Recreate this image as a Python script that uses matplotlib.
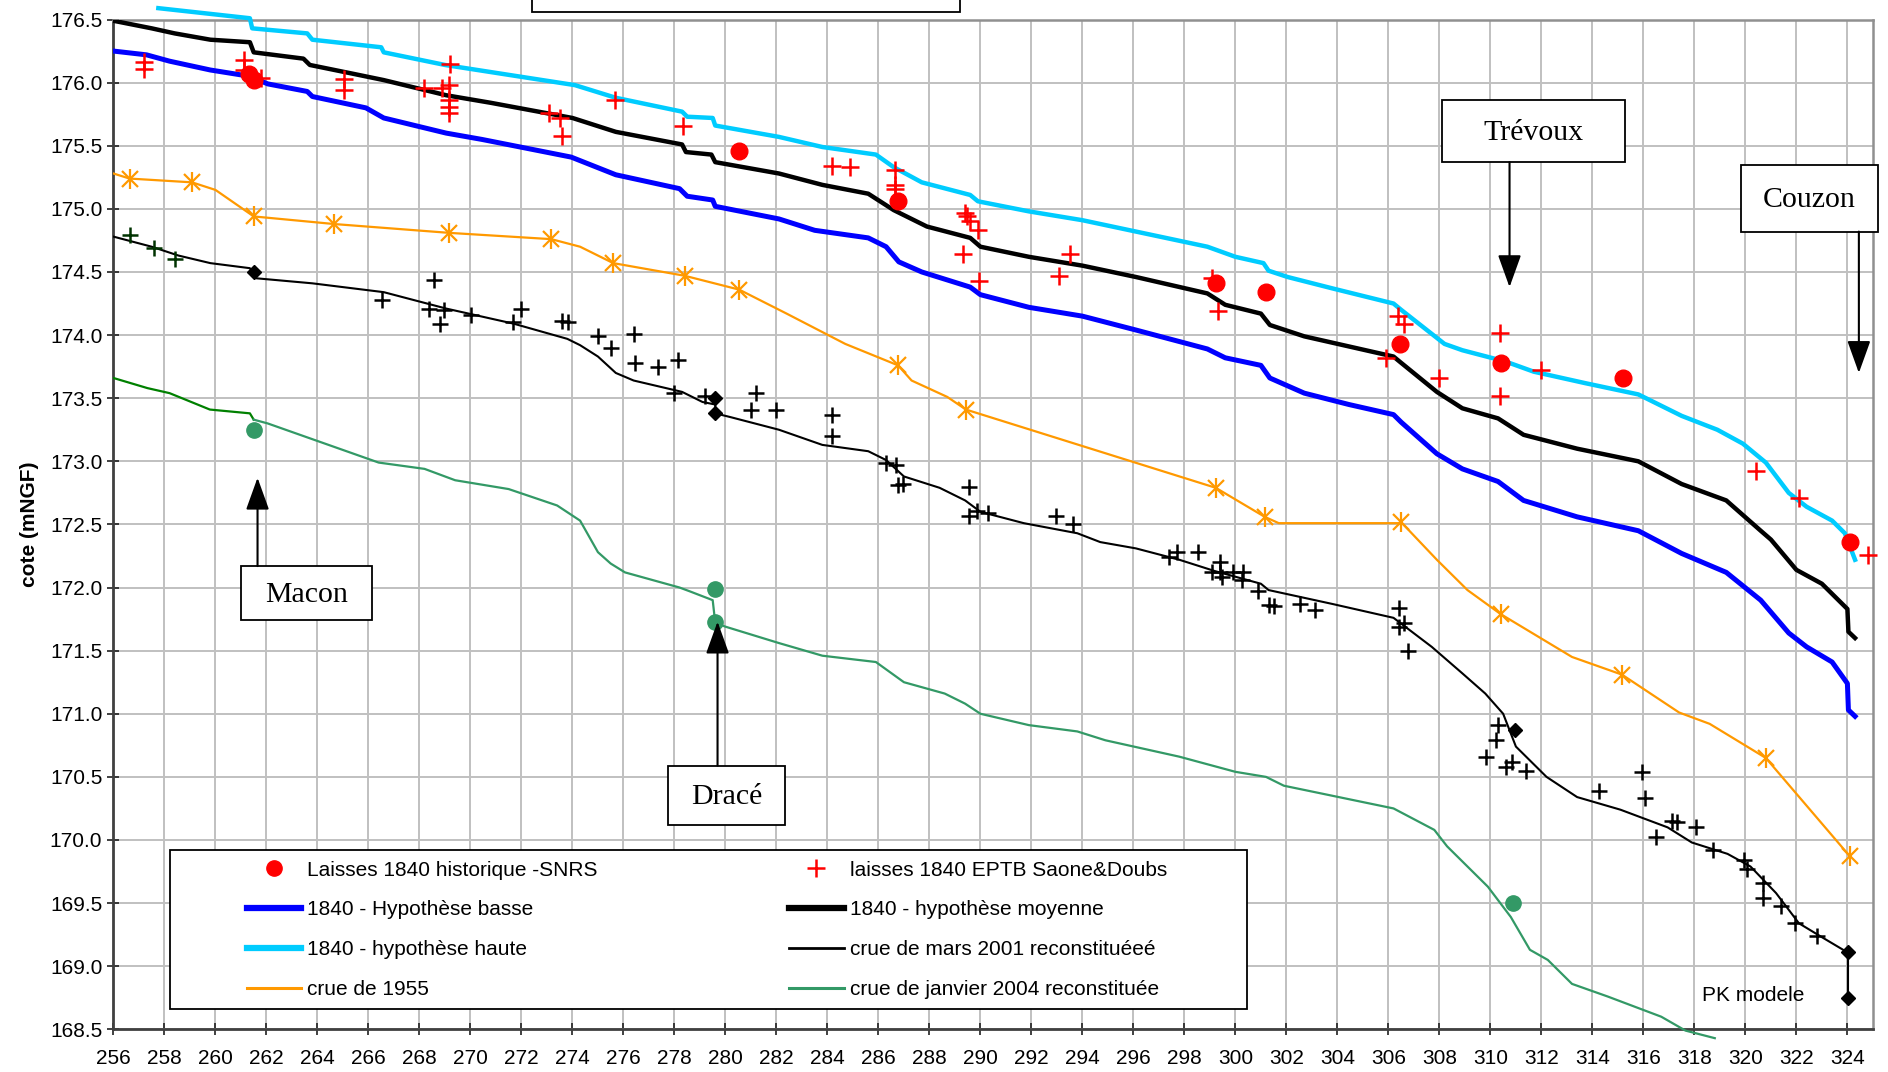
import matplotlib
matplotlib.use("Agg")
import matplotlib.pyplot as plt
from matplotlib.lines import Line2D
from matplotlib.patches import Rectangle

plt.rcParams['font.family'] = ['Liberation Sans', 'DejaVu Sans']

# --- data: PK (km) / cote (mNGF) ---
haute_pk = [257.76, 261.35, 261.44, 263.6, 263.8, 266.5, 266.6, 269.0, 274.1, 275.7, 278.3, 278.5,
            279.5, 279.6, 282.1, 283.8, 285.9, 286.6, 287.7, 289.6, 289.9, 291.9, 294.0, 296.1,
            298.9, 300.0, 301.1, 301.3, 302.05, 303.8, 306.2, 306.5, 308.2, 308.9, 310.6, 311.7,
            313.7, 315.8, 317.5, 318.9, 319.9, 320.8, 321.7, 322.4, 323.4, 323.9, 324.3]
haute_z = [176.59, 176.51, 176.43, 176.39, 176.34, 176.28, 176.24, 176.14, 175.98, 175.88, 175.77, 175.73,
           175.72, 175.66, 175.57, 175.49, 175.43, 175.33, 175.21, 175.11, 175.06, 174.98, 174.91, 174.82,
           174.70, 174.62, 174.57, 174.51, 174.46, 174.37, 174.25, 174.20, 173.93, 173.88, 173.79, 173.71,
           173.62, 173.53, 173.36, 173.25, 173.14, 172.99, 172.75, 172.64, 172.53, 172.43, 172.22]

moy_pk = [256.0, 257.5, 258.4, 259.8, 261.35, 261.5, 263.45, 263.7, 265.4, 266.6, 269.05, 270.8, 274.0,
          275.7, 278.3, 278.45, 279.45, 279.6, 282.1, 283.8, 285.6, 286.6, 287.9, 289.6, 290.0, 291.9,
          294.0, 296.1, 298.9, 299.6, 301.0, 301.35, 302.7, 304.45, 306.2, 306.5, 307.9, 308.9, 310.3,
          311.3, 313.4, 315.8, 317.5, 319.25, 320.6, 321.0, 322.0, 323.0, 324.0, 324.04, 324.3]
moy_z = [176.49, 176.43, 176.39, 176.34, 176.32, 176.24, 176.19, 176.14, 176.07, 176.02, 175.90, 175.84, 175.72,
         175.61, 175.51, 175.45, 175.43, 175.37, 175.28, 175.19, 175.12, 174.99, 174.86, 174.77, 174.70, 174.62,
         174.55, 174.46, 174.33, 174.24, 174.17, 174.08, 173.99, 173.91, 173.83, 173.78, 173.55, 173.42, 173.34,
         173.21, 173.10, 173.00, 172.82, 172.69, 172.45, 172.38, 172.14, 172.03, 171.83, 171.65, 171.60]

basse_pk = [256.0, 257.3, 258.2, 259.8, 261.35, 262.05, 263.6, 263.8, 265.9, 266.6, 269.05, 270.45, 273.95,
            275.7, 278.2, 278.5, 279.5, 279.6, 282.1, 283.5, 285.6, 286.3, 286.8, 287.7, 289.6, 290.0,
            291.9, 294.0, 296.1, 298.9, 299.6, 301.0, 301.35, 302.7, 304.45, 306.2, 306.5, 307.9, 308.9,
            310.3, 311.3, 313.4, 315.8, 317.5, 319.25, 320.6, 321.7, 322.4, 323.4, 324.0, 324.04, 324.3]
basse_z = [176.25, 176.22, 176.17, 176.10, 176.05, 175.99, 175.93, 175.89, 175.80, 175.72, 175.60, 175.55, 175.41,
           175.27, 175.16, 175.10, 175.07, 175.02, 174.92, 174.83, 174.77, 174.70, 174.58, 174.50, 174.38, 174.32,
           174.22, 174.15, 174.04, 173.89, 173.82, 173.76, 173.66, 173.54, 173.45, 173.37, 173.31, 173.06, 172.94,
           172.84, 172.69, 172.56, 172.45, 172.27, 172.12, 171.90, 171.64, 171.53, 171.41, 171.24, 171.03, 170.98]

c1955_pk = [256.0, 256.63, 259.08, 260.0, 261.5, 264.64, 269.15, 273.17, 274.3, 275.6, 278.4, 280.54, 282.4,
            284.7, 286.77, 287.3, 288.7, 289.43, 299.23, 301.15, 301.7, 306.4, 306.49, 307.9, 309.1, 310.4,
            313.2, 315.16, 317.4, 318.6, 320.8, 324.1]
c1955_z = [175.28, 175.24, 175.21, 175.15, 174.94, 174.88, 174.81, 174.76, 174.70, 174.57, 174.47, 174.36, 174.17,
           173.93, 173.76, 173.64, 173.51, 173.41, 172.79, 172.56, 172.51, 172.51, 172.52, 172.22, 171.98, 171.79,
           171.45, 171.31, 171.01, 170.92, 170.65, 169.87]
c1955_mk_pk = [256.63, 259.08, 261.5, 264.64, 269.15, 273.17, 275.6, 278.4, 280.54, 286.77, 289.43, 299.23,
               301.15, 306.49, 310.4, 315.16, 320.8, 324.1]
c1955_mk_z = [175.24, 175.21, 174.94, 174.88, 174.81, 174.76, 174.57, 174.47, 174.36, 173.76, 173.41, 172.79,
              172.56, 172.52, 171.79, 171.31, 170.65, 169.87]

mars2001_pk = [256.0, 257.5, 258.55, 259.8, 261.35, 261.6, 263.8, 266.6, 269.05, 271.7, 273.8, 274.3, 275.0,
               275.7, 276.4, 278.3, 279.1, 279.6, 279.6, 280.2, 282.1, 283.8, 285.6, 286.3, 287.0, 288.4,
               289.4, 290.0, 291.7, 293.8, 294.7, 296.1, 297.8, 299.2, 301.0, 301.3, 303.8, 306.2, 307.7,
               308.9, 309.8, 310.5, 311.0, 312.2, 313.4, 315.1, 316.95, 317.9, 319.3, 320.2, 321.2, 322.1,
               323.0, 324.0]
mars2001_z = [174.78, 174.70, 174.63, 174.57, 174.53, 174.45, 174.41, 174.34, 174.21, 174.09, 173.97, 173.92, 173.83,
              173.70, 173.64, 173.55, 173.47, 173.45, 173.38, 173.35, 173.25, 173.13, 173.08, 173.01, 172.88, 172.79,
              172.69, 172.60, 172.51, 172.43, 172.36, 172.31, 172.22, 172.13, 172.03, 171.98, 171.87, 171.76, 171.53,
              171.32, 171.16, 171.00, 170.74, 170.50, 170.34, 170.24, 170.10, 169.98, 169.89, 169.79, 169.58, 169.34,
              169.23, 169.11]

jan2004a_pk = [256.0, 257.33, 258.2, 259.78, 261.35, 261.5]
jan2004a_z = [173.66, 173.58, 173.54, 173.41, 173.38, 173.33]
jan2004_pk = [261.5, 262.05, 266.4, 268.2, 269.4, 271.5, 273.4, 274.3, 275.0, 275.5, 276.06, 278.2, 278.6,
              279.5, 279.6, 280.0, 282.1, 283.8, 285.9, 287.0, 288.6, 289.4, 290.0, 291.9, 293.8, 294.9,
              297.8, 300.0, 301.2, 301.9, 306.2, 307.8, 308.3, 309.9, 310.8, 311.55, 312.25, 313.2, 314.6,
              316.7, 317.65, 318.8]
jan2004_z = [173.33, 173.30, 172.99, 172.94, 172.85, 172.78, 172.65, 172.53, 172.28, 172.19, 172.12, 172.00, 171.97,
             171.90, 171.72, 171.69, 171.56, 171.46, 171.41, 171.25, 171.16, 171.08, 171.00, 170.91, 170.86, 170.79,
             170.66, 170.54, 170.50, 170.43, 170.25, 170.08, 169.95, 169.63, 169.39, 169.13, 169.05, 168.86, 168.76,
             168.60, 168.49, 168.43]

snrs_pk = [261.3, 261.5, 280.54, 286.77, 299.23, 301.2, 306.45, 310.4, 315.2, 324.1]
snrs_z = [176.07, 176.02, 175.46, 175.06, 174.41, 174.34, 173.93, 173.78, 173.66, 172.36]

eptb_pk = [257.2, 257.2, 261.1, 261.1, 261.8, 265.03, 265.03, 268.18, 268.88, 269.2, 269.15, 269.15, 269.15,
           269.15, 273.08, 273.5, 273.6, 275.65, 278.33, 284.18, 284.9, 286.63, 286.63, 286.63, 289.4, 289.47,
           289.6, 289.9, 289.3, 289.93, 293.08, 293.5, 299.1, 299.3, 306.38, 306.6, 305.9, 307.98, 310.36,
           310.36, 312.0, 320.4, 322.1, 324.8]
eptb_z = [176.16, 176.11, 176.18, 176.10, 176.04, 176.03, 175.94, 175.96, 175.96, 176.15, 175.98, 175.86, 175.81,
          175.76, 175.76, 175.72, 175.58, 175.86, 175.66, 175.34, 175.33, 175.31, 175.19, 175.16, 174.97, 174.94,
          174.90, 174.83, 174.64, 174.43, 174.47, 174.64, 174.45, 174.19, 174.15, 174.09, 173.82, 173.66, 174.02,
          173.52, 173.72, 172.92, 172.71, 172.26]

laisses2001_pk = [266.55, 268.57, 268.36, 268.97, 268.8, 270.02, 271.65, 272.0, 273.6, 273.82, 275.0, 275.53,
                  276.4, 276.44, 277.37, 278.13, 278.0, 279.2, 281.2, 281.0, 282.0, 284.18, 284.18, 286.3,
                  286.7, 286.77, 286.98, 289.54, 289.54, 289.87, 290.31, 292.97, 293.63, 297.4, 297.71, 298.54,
                  299.38, 299.38, 299.1, 299.47, 299.9, 300.29, 300.25, 300.9, 301.3, 301.5, 302.53, 303.13,
                  306.43, 306.6, 306.43, 306.78, 310.31, 310.22, 309.82, 310.62, 310.86, 311.38, 314.25, 315.95,
                  316.08, 316.5, 317.14, 317.3, 318.07, 318.71, 319.95, 320.07, 320.7, 320.7, 321.4, 321.95, 322.8]
laisses2001_z = [174.28, 174.44, 174.21, 174.20, 174.09, 174.16, 174.10, 174.21, 174.11, 174.10, 173.99, 173.90,
                 174.01, 173.78, 173.75, 173.80, 173.54, 173.52, 173.54, 173.41, 173.41, 173.37, 173.20, 172.99,
                 172.97, 172.81, 172.82, 172.80, 172.57, 172.61, 172.59, 172.57, 172.50, 172.24, 172.28, 172.28,
                 172.20, 172.12, 172.12, 172.08, 172.12, 172.12, 172.06, 171.97, 171.86, 171.85, 171.87, 171.82,
                 171.84, 171.72, 171.69, 171.50, 170.91, 170.79, 170.66, 170.58, 170.62, 170.55, 170.39, 170.54,
                 170.33, 170.02, 170.15, 170.14, 170.10, 169.92, 169.84, 169.77, 169.66, 169.54, 169.48, 169.34, 169.24]

amont_pk = [256.66, 257.59, 258.41]
amont_z = [174.79, 174.69, 174.60]

pk_modele_pk = [261.5, 279.6, 279.6, 310.96, 324.03, 324.03]
pk_modele_z = [174.50, 173.50, 173.38, 170.87, 169.11, 168.75]

stations_pk = [261.5, 279.6, 279.6, 310.9]
stations_z = [173.25, 171.99, 171.73, 169.50]

xticks = list(range(256, 325, 2))
yticks = [168.5 + 0.5 * i for i in range(17)]

# --- figure ---
fig = plt.figure(figsize=(18.88, 10.72), dpi=100)
ax = fig.add_axes([0.0601, 0.0398, 0.9319, 0.942])

ax.plot(haute_pk, haute_z, color='#00CCFF', lw=3.2, zorder=3, clip_on=False)
ax.plot(moy_pk, moy_z, color='black', lw=3.2, zorder=3)
ax.plot(basse_pk, basse_z, color='#0000FF', lw=3.6, zorder=3)
ax.plot(c1955_pk, c1955_z, color='#FF9900', lw=1.6, zorder=3)
ax.plot(c1955_mk_pk, c1955_mk_z, ls='none', marker='x', ms=11, mew=1.6, color='#FF9900', zorder=4)
ax.plot(c1955_mk_pk, c1955_mk_z, ls='none', marker='|', ms=14, mew=1.6, color='#FF9900', zorder=4)
ax.plot(mars2001_pk, mars2001_z, color='black', lw=1.5, zorder=3)
ax.plot(jan2004a_pk, jan2004a_z, color='#008000', lw=1.6, zorder=3)
ax.plot(jan2004_pk, jan2004_z, color='#339966', lw=1.6, zorder=3, clip_on=False)

ax.plot(snrs_pk, snrs_z, ls='none', marker='o', ms=12, color='#FF0000', zorder=5, clip_on=False)
ax.plot(eptb_pk, eptb_z, ls='none', marker='+', ms=13, mew=1.8, color='#FF0000', zorder=5, clip_on=False)
ax.plot(laisses2001_pk, laisses2001_z, ls='none', marker='+', ms=11, mew=1.8, color='black', zorder=5)
ax.plot(amont_pk, amont_z, ls='none', marker='+', ms=11, mew=1.8, color='#003300', zorder=5)
ax.plot(pk_modele_pk[-2:], pk_modele_z[-2:], color='black', lw=1.5, zorder=4)
ax.plot(pk_modele_pk, pk_modele_z, ls='none', marker='D', ms=7, color='black', zorder=5)
ax.plot(stations_pk, stations_z, ls='none', marker='o', ms=11, color='#339966', zorder=5)

ax.set_xlim(256, 325)
ax.set_ylim(168.5, 176.5)
ax.set_xticks(xticks)
ax.set_yticks(yticks)
ax.set_yticklabels(['%.1f' % v for v in yticks])
ax.tick_params(labelsize=15, length=9, width=1.2, color='#202020', direction='inout')
ax.tick_params(axis='x', pad=10)
ax.grid(True, color='#C0C0C0', lw=1.4)
ax.set_axisbelow(True)
for s in ['left', 'bottom']:
    ax.spines[s].set_color('#404040')
    ax.spines[s].set_linewidth(2)
for s in ['top', 'right']:
    ax.spines[s].set_color('#909090')
    ax.spines[s].set_linewidth(1.8)
ax.set_ylabel('cote (mNGF)', fontsize=15, fontweight='bold', labelpad=8)

# station boxes
def station(x0, x1, y0, y1, label, ax_x, tip_y, base_y):
    ax.add_patch(Rectangle((x0, y0), x1 - x0, y1 - y0, facecolor='white', edgecolor='black',
                           lw=1.3, zorder=7, clip_on=False))
    ax.text((x0 + x1) / 2, (y0 + y1) / 2 - 0.015, label, fontsize=21.5, family='Liberation Serif',
            ha='center', va='center', zorder=8)
    ax.annotate('', xy=(ax_x, tip_y), xytext=(ax_x, base_y), annotation_clip=False,
                arrowprops=dict(arrowstyle='-|>,head_length=0.5,head_width=0.18', color='black',
                                lw=1.5, mutation_scale=40, shrinkA=0, shrinkB=0), zorder=8)

station(308.11, 315.29, 175.37, 175.86, 'Trévoux', 310.75, 174.38, 175.37)
station(319.82, 325.2, 174.82, 175.35, 'Couzon', 324.45, 173.70, 174.82)
station(260.99, 266.13, 171.74, 172.17, 'Macon', 261.65, 172.87, 172.17)
station(277.75, 282.33, 170.12, 170.59, 'Dracé', 279.69, 171.73, 170.59)

# top box partly out of the figure
fig.patches.append(Rectangle((0.2818, 0.9888), 0.2267, 0.05, transform=fig.transFigure,
                             facecolor='white', edgecolor='black', lw=1.3))

ax.text(318.3, 168.77, 'PK modele', fontsize=15, ha='left', va='center', zorder=6)

# legend
ax.add_patch(Rectangle((0.032, 0.0198), 0.6125, 0.1574, transform=ax.transAxes,
                       facecolor='white', edgecolor='black', lw=1.3, zorder=6))
handles = [
    Line2D([], [], ls='none', marker='o', ms=11, color='#FF0000'),
    Line2D([], [], color='#0000FF', lw=4.5),
    Line2D([], [], color='#00CCFF', lw=4.5),
    Line2D([], [], color='#FF9900', lw=2.2),
    Line2D([], [], ls='none', marker='+', ms=13, mew=1.8, color='#FF0000'),
    Line2D([], [], color='black', lw=4.5),
    Line2D([], [], color='black', lw=2),
    Line2D([], [], color='#339966', lw=2.2),
]
labels = ['Laisses 1840 historique -SNRS', '1840 - Hypothèse basse', '1840 - hypothèse haute',
          'crue de 1955', 'laisses 1840 EPTB Saone&Doubs', '1840 - hypothèse moyenne',
          'crue de mars 2001 reconstituéeé', 'crue de janvier 2004 reconstituée']
leg = ax.legend(handles, labels, ncol=2, loc='center', bbox_to_anchor=(0.0758, 0.0485, 0.523, 0.1),
                mode='expand', frameon=False, fontsize=15, handlelength=2.6, handletextpad=0.3,
                labelspacing=1.0, borderpad=0, borderaxespad=0)
leg.set_zorder(7)

fig.savefig('out.png', dpi=100)
